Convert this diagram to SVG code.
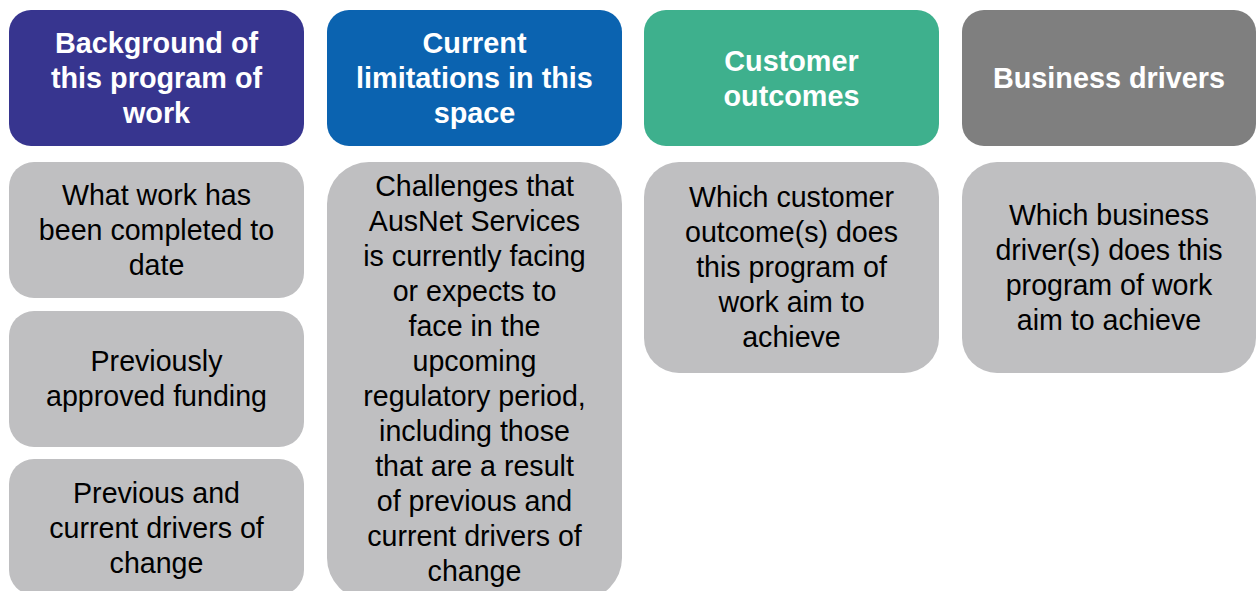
<svg xmlns="http://www.w3.org/2000/svg" width="1258" height="591" viewBox="0 0 1258 591">
<style>
.h{font-family:"Liberation Sans",Arial,sans-serif;font-size:28.8px;font-weight:bold;fill:#fff;text-anchor:middle}
.b{font-family:"Liberation Sans",Arial,sans-serif;font-size:28.6px;fill:#000;text-anchor:middle}
.g{fill:#BFBFC1}
</style>
<rect width="1258" height="591" fill="#fff"/>
<g id="hdr-background">
<rect x="9" y="10" width="295" height="136" rx="22" fill="#37358F"/>
<text class="h" x="156.5" y="53">Background of</text>
<text class="h" x="156.5" y="88">this program of</text>
<text class="h" x="156.5" y="123">work</text>
</g>
<g id="hdr-limitations">
<rect x="327" y="10" width="295" height="136" rx="22" fill="#0B63B0"/>
<text class="h" x="474.5" y="53">Current</text>
<text class="h" x="474.5" y="88">limitations in this</text>
<text class="h" x="474.5" y="123">space</text>
</g>
<g id="hdr-customer">
<rect x="644" y="10" width="295" height="136" rx="22" fill="#3EB08D"/>
<text class="h" x="791.5" y="71">Customer</text>
<text class="h" x="791.5" y="106">outcomes</text>
</g>
<g id="hdr-business">
<rect x="962" y="10" width="294" height="136" rx="22" fill="#7F7F7F"/>
<text class="h" x="1109" y="88">Business drivers</text>
</g>
<g id="box-work">
<rect class="g" x="9" y="162" width="295" height="136" rx="25"/>
<text class="b" x="156.5" y="205">What work has</text>
<text class="b" x="156.5" y="240">been completed to</text>
<text class="b" x="156.5" y="275">date</text>
</g>
<g id="box-funding">
<rect class="g" x="9" y="311" width="295" height="136" rx="25"/>
<text class="b" x="156.5" y="371">Previously</text>
<text class="b" x="156.5" y="406">approved funding</text>
</g>
<g id="box-drivers">
<rect class="g" x="9" y="459" width="295" height="136" rx="25"/>
<text class="b" x="156.5" y="503">Previous and</text>
<text class="b" x="156.5" y="538">current drivers of</text>
<text class="b" x="156.5" y="573">change</text>
</g>
<g id="box-challenges">
<rect class="g" x="327" y="162" width="295" height="438" rx="42"/>
<text class="b" x="474.5" y="196">Challenges that</text>
<text class="b" x="474.5" y="231">AusNet Services</text>
<text class="b" x="474.5" y="266">is currently facing</text>
<text class="b" x="474.5" y="301">or expects to</text>
<text class="b" x="474.5" y="336">face in the</text>
<text class="b" x="474.5" y="371">upcoming</text>
<text class="b" x="474.5" y="406">regulatory period,</text>
<text class="b" x="474.5" y="441">including those</text>
<text class="b" x="474.5" y="476">that are a result</text>
<text class="b" x="474.5" y="511">of previous and</text>
<text class="b" x="474.5" y="546">current drivers of</text>
<text class="b" x="474.5" y="581">change</text>
</g>
<g id="box-customer">
<rect class="g" x="644" y="162" width="295" height="211" rx="35"/>
<text class="b" x="791.5" y="207">Which customer</text>
<text class="b" x="791.5" y="242">outcome(s) does</text>
<text class="b" x="791.5" y="277">this program of</text>
<text class="b" x="791.5" y="312">work aim to</text>
<text class="b" x="791.5" y="347">achieve</text>
</g>
<g id="box-business">
<rect class="g" x="962" y="162" width="294" height="211" rx="35"/>
<text class="b" x="1109" y="225">Which business</text>
<text class="b" x="1109" y="260">driver(s) does this</text>
<text class="b" x="1109" y="295">program of work</text>
<text class="b" x="1109" y="330">aim to achieve</text>
</g>
<g id="connectors"></g>
</svg>
